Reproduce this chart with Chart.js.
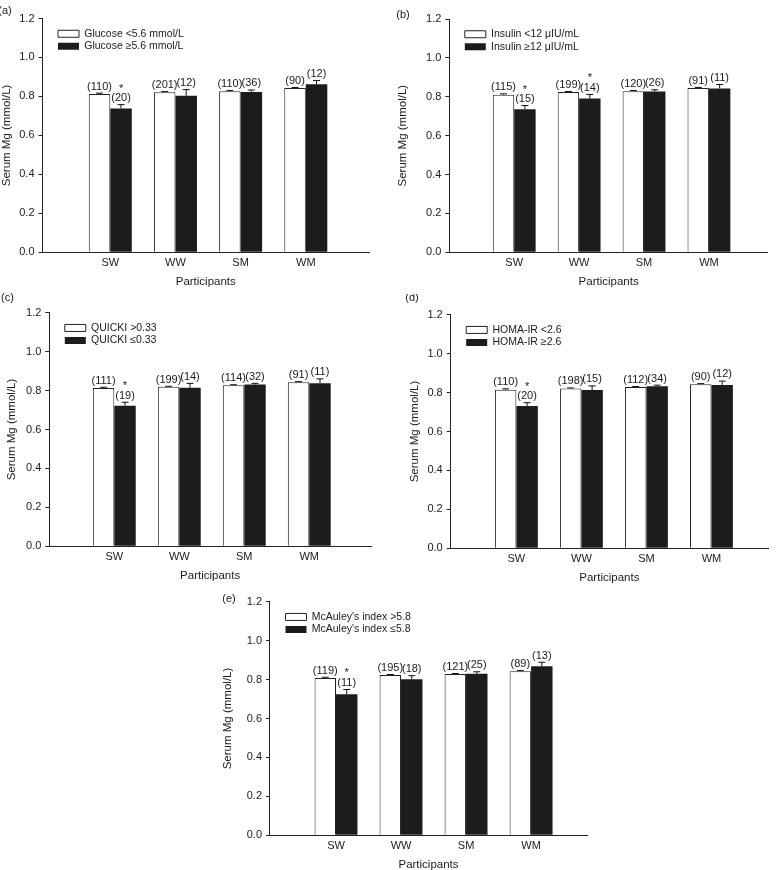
<!DOCTYPE html>
<html>
<head>
<meta charset="utf-8">
<script src="https://cdn.jsdelivr.net/npm/chart.js@4.4.0/dist/chart.umd.min.js"></script>
<style>
body { margin: 0; background: #fff; }
#wrap { position: relative; width: 777px; height: 870px; overflow: hidden; background: #fff; }
canvas { position: absolute; }
</style>
</head>
<body>
<div id="wrap"></div>
<script>
'use strict';
let categories = ['SW', 'WW', 'SM', 'WM'];

let glucoseLabels = ['Glucose <5.6 mmol/L', 'Glucose \u22655.6 mmol/L'];
let glucoseLow = [0.813, 0.822, 0.827, 0.843];
let glucoseHigh = [0.738, 0.803, 0.823, 0.862];
let glucoseLowSe = [0.004, 0.003, 0.003, 0.003];
let glucoseHighSe = [0.020, 0.032, 0.010, 0.020];
let glucoseLowN = [110, 201, 110, 90];
let glucoseHighN = [20, 12, 36, 12];
let glucoseStar = [true, false, false, false];

let insulinLabels = ['Insulin <12 \u03bcIU/mL', 'Insulin \u226512 \u03bcIU/mL'];
let insulinLow = [0.811, 0.824, 0.829, 0.845];
let insulinHigh = [0.736, 0.791, 0.827, 0.843];
let insulinLowSe = [0.004, 0.003, 0.003, 0.003];
let insulinHighSe = [0.019, 0.021, 0.009, 0.020];
let insulinLowN = [115, 199, 120, 91];
let insulinHighN = [15, 14, 26, 11];
let insulinStar = [true, true, false, false];

let quickiLabels = ['QUICKI >0.33', 'QUICKI \u22640.33'];
let quickiLow = [0.813, 0.819, 0.827, 0.843];
let quickiHigh = [0.722, 0.815, 0.831, 0.838];
let quickiLowSe = [0.004, 0.003, 0.003, 0.003];
let quickiHighSe = [0.018, 0.022, 0.006, 0.022];
let quickiLowN = [111, 199, 114, 91];
let quickiHighN = [19, 14, 32, 11];
let quickiStar = [true, false, false, false];

let homaLabels = ['HOMA-IR <2.6', 'HOMA-IR \u22652.6'];
let homaLow = [0.815, 0.821, 0.828, 0.843];
let homaHigh = [0.731, 0.813, 0.832, 0.839];
let homaLowSe = [0.004, 0.003, 0.003, 0.003];
let homaHighSe = [0.017, 0.021, 0.006, 0.020];
let homaLowN = [110, 198, 112, 90];
let homaHighN = [20, 15, 34, 12];
let homaStar = [true, false, false, false];

let mcauleyLabels = ["McAuley's index >5.8", "McAuley's index \u22645.8"];
let mcauleyLow = [0.808, 0.823, 0.828, 0.843];
let mcauleyHigh = [0.725, 0.801, 0.830, 0.868];
let mcauleyLowSe = [0.004, 0.003, 0.003, 0.003];
let mcauleyHighSe = [0.024, 0.019, 0.010, 0.021];
let mcauleyLowN = [119, 195, 121, 89];
let mcauleyHighN = [11, 18, 25, 13];
let mcauleyStar = [true, false, false, false];

let panels = [
    { tag: '(a)', labels: glucoseLabels, low: glucoseLow, high: glucoseHigh, lowSe: glucoseLowSe, highSe: glucoseHighSe,
      lowN: glucoseLowN, highN: glucoseHighN, star: glucoseStar,
      box: [42.5, 18.5, 369, 252.3], xRange: [-0.04, 4.97], yTitleW: 42.4, tagAt: [5, 11] },
    { tag: '(b)', labels: insulinLabels, low: insulinLow, high: insulinHigh, lowSe: insulinLowSe, highSe: insulinHighSe,
      lowN: insulinLowN, highN: insulinHighN, star: insulinStar,
      box: [449.3, 19, 768, 252.3], xRange: [0, 4.91], yTitleW: 52.9, tagAt: [403, 15] },
    { tag: '(c)', labels: quickiLabels, low: quickiLow, high: quickiHigh, lowSe: quickiLowSe, highSe: quickiHighSe,
      lowN: quickiLowN, highN: quickiHighN, star: quickiStar,
      box: [49.3, 312.7, 371, 546.3], xRange: [0, 4.95], yTitleW: 43.9, tagAt: [7.5, 298] },
    { tag: '(d)', labels: homaLabels, low: homaLow, high: homaHigh, lowSe: homaLowSe, highSe: homaHighSe,
      lowN: homaLowN, highN: homaHighN, star: homaStar,
      box: [450.7, 314.7, 768, 548.3], xRange: [-0.01, 4.87], yTitleW: 42.6, tagAt: [412, 298] },
    { tag: '(e)', labels: mcauleyLabels, low: mcauleyLow, high: mcauleyHigh, lowSe: mcauleyLowSe, highSe: mcauleyHighSe,
      lowN: mcauleyLowN, highN: mcauleyHighN, star: mcauleyStar,
      box: [270, 601.7, 587, 835.3], xRange: [-0.015, 4.86], yTitleW: 48.9, tagAt: [229, 599] }
];

Chart.defaults.font.family = '"Liberation Sans", Arial, sans-serif';
Chart.defaults.color = '#1a1a1a';

let fontStr = '11px "Liberation Sans", Arial, sans-serif';

let errorBars = {
    id: 'errorBars',
    afterLayout(chart) {
        let area = chart.chartArea;
        let legend = chart.legend;
        legend.left = area.left + 15.5 - 2;
        legend.top = area.top + 8;
        legend.right = area.right;
        legend.bottom = area.bottom;
    },
    afterDatasetsDraw(chart, args, opts) {
        let ctx = chart.ctx;
        let yScale = chart.scales.y;
        ctx.save();
        chart.data.datasets.forEach(function (ds, i) {
            let meta = chart.getDatasetMeta(i);
            meta.data.forEach(function (bar, j) {
                let top = yScale.getPixelForValue(ds.data[j].y + ds.se[j]);
                ctx.strokeStyle = '#111';
                ctx.lineWidth = 1;
                ctx.beginPath();
                ctx.moveTo(bar.x, bar.y);
                ctx.lineTo(bar.x, top);
                ctx.moveTo(bar.x - 3.5, top);
                ctx.lineTo(bar.x + 3.5, top);
                ctx.stroke();

                ctx.fillStyle = '#1a1a1a';
                ctx.font = fontStr;
                ctx.textAlign = 'center';
                ctx.textBaseline = 'alphabetic';
                ctx.fillText('(' + ds.n[j] + ')', bar.x, top - 3.6);
                if (ds.star && ds.star[j]) {
                    ctx.fillText('*', bar.x, top - 13);
                }
            });
        });
        ctx.font = fontStr;
        ctx.textAlign = 'center';
        ctx.textBaseline = 'middle';
        ctx.fillStyle = '#1a1a1a';
        ctx.fillText(opts.tag, opts.tagX, opts.tagY);
        ctx.restore();
    }
};

let wrap = document.getElementById('wrap');

function buildPanel(p) {
    let W = p.yTitleW;
    let H = 36;
    let cl = Math.floor(p.box[0] - W - 10);
    let ct = Math.floor(p.box[1] - 20);
    let cw = Math.ceil(p.box[2] + 10) - cl;
    let ch = Math.ceil(p.box[3] + H) - ct;

    let canvas = document.createElement('canvas');
    canvas.width = cw;
    canvas.height = ch;
    canvas.style.left = cl + 'px';
    canvas.style.top = ct + 'px';
    wrap.appendChild(canvas);

    new Chart(canvas, {
        type: 'bar',
        data: {
            datasets: [{
                label: p.labels[0],
                data: categories.map((c, i) => ({ x: i + 1, y: p.low[i] })),
                se: p.lowSe,
                n: p.lowN,
                backgroundColor: '#ffffff',
                borderColor: '#222222',
                borderWidth: 1
            }, {
                label: p.labels[1],
                data: categories.map((c, i) => ({ x: i + 1, y: p.high[i] })),
                se: p.highSe,
                n: p.highN,
                star: p.star,
                backgroundColor: '#1c1c1c',
                borderColor: '#1c1c1c',
                borderWidth: 0
            }]
        },
        options: {
            responsive: false,
            animation: false,
            devicePixelRatio: 1,
            layout: {
                padding: {
                    left: p.box[0] - W - cl,
                    top: p.box[1] - ct,
                    right: cl + cw - p.box[2],
                    bottom: ct + ch - p.box[3] - H
                }
            },
            datasets: { bar: { categoryPercentage: 0.66, barPercentage: 1 } },
            scales: {
                x: {
                    type: 'linear',
                    min: p.xRange[0],
                    max: p.xRange[1],
                    offset: false,
                    afterBuildTicks: s => { s.ticks = categories.map((c, i) => ({ value: i + 1 })); },
                    afterFit: s => { s.height = H; },
                    grid: { display: false, drawTicks: false },
                    border: { display: true, color: '#222222', width: 1 },
                    ticks: { callback: v => categories[v - 1], padding: 4, font: { size: 11 }, autoSkip: false, maxRotation: 0 },
                    title: { display: true, text: 'Participants', font: { size: 11.5 }, padding: 0 }
                },
                y: {
                    min: 0,
                    max: 1.2,
                    afterFit: s => { s.width = W; },
                    ticks: { stepSize: 0.2, callback: v => v.toFixed(1), padding: 4, font: { size: 11 } },
                    grid: { drawOnChartArea: false, tickLength: 4, color: '#222222' },
                    border: { display: true, color: '#222222', width: 1 },
                    title: { display: true, text: 'Serum Mg (mmol/L)', font: { size: 11.5 }, padding: 0 }
                }
            },
            plugins: {
                legend: {
                    position: 'chartArea',
                    align: 'start',
                    labels: { boxWidth: 21, boxHeight: 7, padding: 2, font: { size: 10.5 } }
                },
                tooltip: { enabled: false },
                errorBars: { tag: p.tag, tagX: p.tagAt[0] - cl, tagY: p.tagAt[1] - ct }
            }
        },
        plugins: [errorBars]
    });
}

panels.forEach(buildPanel);
</script>
</body>
</html>
